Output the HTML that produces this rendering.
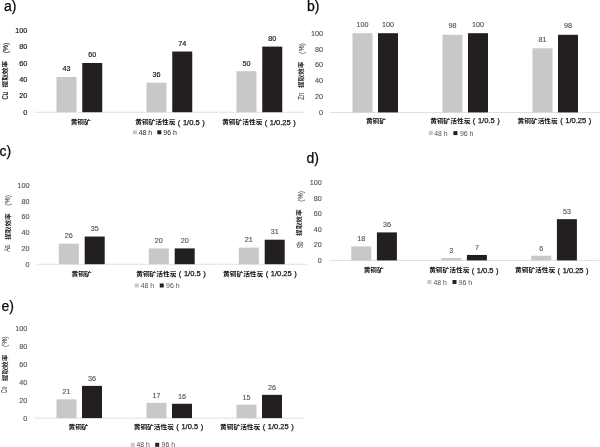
<!DOCTYPE html>
<html lang="zh"><head><meta charset="utf-8"><title>提取效率</title>
<style>
html,body{margin:0;padding:0;background:#fff;}
body{width:600px;height:447px;overflow:hidden;}
svg{display:block;font-family:"Liberation Sans", "Noto Sans CJK SC", sans-serif;}
.ttl{font-size:14px;fill:#0a0a0a;stroke:#0a0a0a;stroke-width:0.25px;}
.cj{font-size:6px;font-weight:700;fill:#111;}
.cl{font-size:7.5px;font-weight:400;fill:#111;stroke:#111;stroke-width:0.25px;word-spacing:0.5px;}
</style></head><body>
<svg width="600" height="447" viewBox="0 0 600 447">
<rect width="600" height="447" fill="#ffffff"/>
<g id="panel-a">
<text class="ttl" x="4" y="10.5">a)</text>
<rect x="34.25" y="111.8" width="270" height="0.8" fill="#d9d9d9"/>
<text x="27.2" y="114.78" font-size="7.2" fill="#1c1c1c" stroke="#1c1c1c" stroke-width="0.2" text-anchor="end">0</text>
<text x="27.2" y="98.38" font-size="7.2" fill="#1c1c1c" stroke="#1c1c1c" stroke-width="0.2" text-anchor="end">20</text>
<text x="27.2" y="81.98" font-size="7.2" fill="#1c1c1c" stroke="#1c1c1c" stroke-width="0.2" text-anchor="end">40</text>
<text x="27.2" y="65.58" font-size="7.2" fill="#1c1c1c" stroke="#1c1c1c" stroke-width="0.2" text-anchor="end">60</text>
<text x="27.2" y="49.18" font-size="7.2" fill="#1c1c1c" stroke="#1c1c1c" stroke-width="0.2" text-anchor="end">80</text>
<text x="27.2" y="32.78" font-size="7.2" fill="#1c1c1c" stroke="#1c1c1c" stroke-width="0.2" text-anchor="end">100</text>
<g transform="translate(7.7 99.4) rotate(-90)"><text transform="scale(0.69 1)" x="0" y="0.2" font-size="8.4" fill="#1c1c1c" stroke="#1c1c1c" stroke-width="0.2">Cu</text><text x="12" y="-0.3" font-size="6" font-weight="700" fill="#111" textLength="26.5" lengthAdjust="spacingAndGlyphs">提取效率</text><text transform="translate(46.1 0) scale(0.85 1)" x="0" y="0.3" font-size="8.1" fill="#1c1c1c" stroke="#1c1c1c" stroke-width="0.2">(%)</text></g>
<rect x="56.5" y="76.94" width="20" height="35.26" fill="#c7c8ca"/>
<text x="66.5" y="71.42" font-size="7.2" fill="#1c1c1c" stroke="#1c1c1c" stroke-width="0.2" text-anchor="middle">43</text>
<rect x="82.25" y="63" width="20" height="49.2" fill="#231f20"/>
<text x="92.25" y="57.48" font-size="7.2" fill="#1c1c1c" stroke="#1c1c1c" stroke-width="0.2" text-anchor="middle">60</text>
<text class="cj" x="70.67" y="124.3" textLength="20" lengthAdjust="spacingAndGlyphs">黄铜矿</text>
<rect x="146.5" y="82.68" width="20" height="29.52" fill="#c7c8ca"/>
<text x="156.5" y="77.16" font-size="7.2" fill="#1c1c1c" stroke="#1c1c1c" stroke-width="0.2" text-anchor="middle">36</text>
<rect x="172.25" y="51.52" width="20" height="60.68" fill="#231f20"/>
<text x="182.25" y="46" font-size="7.2" fill="#1c1c1c" stroke="#1c1c1c" stroke-width="0.2" text-anchor="middle">74</text>
<text class="cj" x="135.25" y="124.3" textLength="40.2" lengthAdjust="spacingAndGlyphs">黄铜矿活性炭</text>
<text class="cl" x="177.85" y="124.5">( 1/0.5 )</text>
<rect x="236.5" y="71.2" width="20" height="41" fill="#c7c8ca"/>
<text x="246.5" y="65.68" font-size="7.2" fill="#1c1c1c" stroke="#1c1c1c" stroke-width="0.2" text-anchor="middle">50</text>
<rect x="262.25" y="46.6" width="20" height="65.6" fill="#231f20"/>
<text x="272.25" y="41.08" font-size="7.2" fill="#1c1c1c" stroke="#1c1c1c" stroke-width="0.2" text-anchor="middle">80</text>
<text class="cj" x="222.17" y="124.3" textLength="40.2" lengthAdjust="spacingAndGlyphs">黄铜矿活性炭</text>
<text class="cl" x="264.77" y="124.5">( 1/0.25 )</text>
<rect x="132.9" y="130.3" width="4" height="4" fill="#c7c8ca"/>
<text x="138.7" y="134.88" font-size="7.2" fill="#1c1c1c" textLength="13.3" lengthAdjust="spacingAndGlyphs">48 h</text>
<rect x="157.3" y="130.3" width="4" height="4" fill="#231f20"/>
<text x="163.3" y="134.88" font-size="7.2" fill="#1c1c1c" textLength="13.6" lengthAdjust="spacingAndGlyphs">96 h</text>
</g>
<g id="panel-b">
<text class="ttl" x="307" y="10.5">b)</text>
<rect x="330.4" y="112" width="270" height="0.8" fill="#d9d9d9"/>
<text x="323" y="114.98" font-size="7.2" fill="#505050" stroke="#505050" stroke-width="0.12" text-anchor="end">0</text>
<text x="323" y="99.14" font-size="7.2" fill="#505050" stroke="#505050" stroke-width="0.12" text-anchor="end">20</text>
<text x="323" y="83.3" font-size="7.2" fill="#505050" stroke="#505050" stroke-width="0.12" text-anchor="end">40</text>
<text x="323" y="67.46" font-size="7.2" fill="#505050" stroke="#505050" stroke-width="0.12" text-anchor="end">60</text>
<text x="323" y="51.62" font-size="7.2" fill="#505050" stroke="#505050" stroke-width="0.12" text-anchor="end">80</text>
<text x="323" y="35.78" font-size="7.2" fill="#505050" stroke="#505050" stroke-width="0.12" text-anchor="end">100</text>
<g transform="translate(303.6 100) rotate(-90)"><text transform="scale(0.75 1)" x="0" y="0.2" font-size="8.4" fill="#505050" stroke="#505050" stroke-width="0.12">Zn</text><text x="12" y="-0.9" font-size="6" font-weight="700" fill="#222" textLength="26.5" lengthAdjust="spacingAndGlyphs">提取效率</text><text transform="translate(46.1 0) scale(0.91 1)" x="0" y="0.3" font-size="7.6" fill="#505050" stroke="#505050" stroke-width="0.12">(%)</text></g>
<rect x="352.5" y="33.2" width="20" height="79.2" fill="#c7c8ca"/>
<text x="362.5" y="26.88" font-size="7.2" fill="#505050" stroke="#505050" stroke-width="0.12" text-anchor="middle">100</text>
<rect x="378" y="33.2" width="20" height="79.2" fill="#231f20"/>
<text x="388" y="26.88" font-size="7.2" fill="#505050" stroke="#505050" stroke-width="0.12" text-anchor="middle">100</text>
<text class="cj" x="365.95" y="123.1" textLength="20" lengthAdjust="spacingAndGlyphs">黄铜矿</text>
<rect x="442.5" y="34.78" width="20" height="77.62" fill="#c7c8ca"/>
<text x="452.5" y="28.46" font-size="7.2" fill="#505050" stroke="#505050" stroke-width="0.12" text-anchor="middle">98</text>
<rect x="468" y="33.2" width="20" height="79.2" fill="#231f20"/>
<text x="478" y="26.88" font-size="7.2" fill="#505050" stroke="#505050" stroke-width="0.12" text-anchor="middle">100</text>
<text class="cj" x="430.22" y="123.1" textLength="40.2" lengthAdjust="spacingAndGlyphs">黄铜矿活性炭</text>
<text class="cl" x="472.82" y="123.3">( 1/0.5 )</text>
<rect x="532.5" y="48.25" width="20" height="64.15" fill="#c7c8ca"/>
<text x="542.5" y="41.93" font-size="7.2" fill="#505050" stroke="#505050" stroke-width="0.12" text-anchor="middle">81</text>
<rect x="558" y="34.78" width="20" height="77.62" fill="#231f20"/>
<text x="568" y="28.46" font-size="7.2" fill="#505050" stroke="#505050" stroke-width="0.12" text-anchor="middle">98</text>
<text class="cj" x="517.55" y="123.1" textLength="40.2" lengthAdjust="spacingAndGlyphs">黄铜矿活性炭</text>
<text class="cl" x="560.15" y="123.3">( 1/0.25 )</text>
<rect x="428.75" y="131.1" width="4" height="4" fill="#c7c8ca"/>
<text x="434.3" y="135.68" font-size="7.2" fill="#505050" textLength="13.3" lengthAdjust="spacingAndGlyphs">48 h</text>
<rect x="453.4" y="131.1" width="4" height="4" fill="#231f20"/>
<text x="459.9" y="135.68" font-size="7.2" fill="#505050" textLength="13.6" lengthAdjust="spacingAndGlyphs">96 h</text>
</g>
<g id="panel-c">
<text class="ttl" x="-0.5" y="155.5">c)</text>
<rect x="36.75" y="263.8" width="270" height="0.8" fill="#d9d9d9"/>
<text x="29.6" y="266.78" font-size="7.2" fill="#505050" stroke="#505050" stroke-width="0.12" text-anchor="end">0</text>
<text x="29.6" y="250.98" font-size="7.2" fill="#505050" stroke="#505050" stroke-width="0.12" text-anchor="end">20</text>
<text x="29.6" y="235.18" font-size="7.2" fill="#505050" stroke="#505050" stroke-width="0.12" text-anchor="end">40</text>
<text x="29.6" y="219.38" font-size="7.2" fill="#505050" stroke="#505050" stroke-width="0.12" text-anchor="end">60</text>
<text x="29.6" y="203.58" font-size="7.2" fill="#505050" stroke="#505050" stroke-width="0.12" text-anchor="end">80</text>
<text x="29.6" y="187.78" font-size="7.2" fill="#505050" stroke="#505050" stroke-width="0.12" text-anchor="end">100</text>
<g transform="translate(9.8 251.8) rotate(-90)"><text transform="scale(0.7 1)" x="0" y="0.2" font-size="8.4" fill="#505050" stroke="#505050" stroke-width="0.12">As</text><text x="12" y="0.35" font-size="6" font-weight="700" fill="#222" textLength="26.5" lengthAdjust="spacingAndGlyphs">提取效率</text><text transform="translate(46.1 0) scale(0.91 1)" x="0" y="0.3" font-size="7.6" fill="#505050" stroke="#505050" stroke-width="0.12">(%)</text></g>
<rect x="58.8" y="243.66" width="20" height="20.54" fill="#c7c8ca"/>
<text x="68.8" y="238.24" font-size="7.2" fill="#505050" stroke="#505050" stroke-width="0.12" text-anchor="middle">26</text>
<rect x="84.7" y="236.55" width="20" height="27.65" fill="#231f20"/>
<text x="94.7" y="231.13" font-size="7.2" fill="#505050" stroke="#505050" stroke-width="0.12" text-anchor="middle">35</text>
<text class="cj" x="71.55" y="276" textLength="20" lengthAdjust="spacingAndGlyphs">黄铜矿</text>
<rect x="148.8" y="248.4" width="20" height="15.8" fill="#c7c8ca"/>
<text x="158.8" y="242.98" font-size="7.2" fill="#505050" stroke="#505050" stroke-width="0.12" text-anchor="middle">20</text>
<rect x="174.7" y="248.4" width="20" height="15.8" fill="#231f20"/>
<text x="184.7" y="242.98" font-size="7.2" fill="#505050" stroke="#505050" stroke-width="0.12" text-anchor="middle">20</text>
<text class="cj" x="136.22" y="276" textLength="40.2" lengthAdjust="spacingAndGlyphs">黄铜矿活性炭</text>
<text class="cl" x="178.83" y="276.2">( 1/0.5 )</text>
<rect x="238.8" y="247.61" width="20" height="16.59" fill="#c7c8ca"/>
<text x="248.8" y="242.19" font-size="7.2" fill="#505050" stroke="#505050" stroke-width="0.12" text-anchor="middle">21</text>
<rect x="264.7" y="239.71" width="20" height="24.49" fill="#231f20"/>
<text x="274.7" y="234.29" font-size="7.2" fill="#505050" stroke="#505050" stroke-width="0.12" text-anchor="middle">31</text>
<text class="cj" x="223.05" y="276" textLength="40.2" lengthAdjust="spacingAndGlyphs">黄铜矿活性炭</text>
<text class="cl" x="265.65" y="276.2">( 1/0.25 )</text>
<rect x="134.7" y="283.5" width="4" height="4" fill="#c7c8ca"/>
<text x="140.7" y="288.08" font-size="7.2" fill="#505050" textLength="13.3" lengthAdjust="spacingAndGlyphs">48 h</text>
<rect x="159.75" y="283.5" width="4" height="4" fill="#231f20"/>
<text x="166" y="288.08" font-size="7.2" fill="#505050" textLength="13.6" lengthAdjust="spacingAndGlyphs">96 h</text>
</g>
<g id="panel-d">
<text class="ttl" x="306.5" y="163">d)</text>
<rect x="329.3" y="260" width="270" height="0.8" fill="#d9d9d9"/>
<text x="321.8" y="262.98" font-size="7.2" fill="#505050" stroke="#505050" stroke-width="0.12" text-anchor="end">0</text>
<text x="321.8" y="247.42" font-size="7.2" fill="#505050" stroke="#505050" stroke-width="0.12" text-anchor="end">20</text>
<text x="321.8" y="231.86" font-size="7.2" fill="#505050" stroke="#505050" stroke-width="0.12" text-anchor="end">40</text>
<text x="321.8" y="216.3" font-size="7.2" fill="#505050" stroke="#505050" stroke-width="0.12" text-anchor="end">60</text>
<text x="321.8" y="200.74" font-size="7.2" fill="#505050" stroke="#505050" stroke-width="0.12" text-anchor="end">80</text>
<text x="321.8" y="185.18" font-size="7.2" fill="#505050" stroke="#505050" stroke-width="0.12" text-anchor="end">100</text>
<g transform="translate(302.5 247.9) rotate(-90)"><text transform="scale(0.62 1)" x="0" y="0.2" font-size="8.4" fill="#505050" stroke="#505050" stroke-width="0.12">Sb</text><text x="12" y="-1.15" font-size="6" font-weight="700" fill="#222" textLength="26.5" lengthAdjust="spacingAndGlyphs">提取效率</text><text transform="translate(46.1 0) scale(0.91 1)" x="0" y="0.3" font-size="7.6" fill="#505050" stroke="#505050" stroke-width="0.12">(%)</text></g>
<rect x="351.3" y="246.4" width="20" height="14" fill="#c7c8ca"/>
<text x="361.3" y="241.17" font-size="7.2" fill="#505050" stroke="#505050" stroke-width="0.12" text-anchor="middle">18</text>
<rect x="376.9" y="232.39" width="20" height="28.01" fill="#231f20"/>
<text x="386.9" y="227.17" font-size="7.2" fill="#505050" stroke="#505050" stroke-width="0.12" text-anchor="middle">36</text>
<text class="cj" x="363.7" y="272.4" textLength="20" lengthAdjust="spacingAndGlyphs">黄铜矿</text>
<rect x="441.3" y="258.07" width="20" height="2.33" fill="#c7c8ca"/>
<text x="451.3" y="252.84" font-size="7.2" fill="#505050" stroke="#505050" stroke-width="0.12" text-anchor="middle">3</text>
<rect x="466.9" y="254.95" width="20" height="5.45" fill="#231f20"/>
<text x="476.9" y="249.73" font-size="7.2" fill="#505050" stroke="#505050" stroke-width="0.12" text-anchor="middle">7</text>
<text class="cj" x="429.18" y="272.4" textLength="40.2" lengthAdjust="spacingAndGlyphs">黄铜矿活性炭</text>
<text class="cl" x="471.77" y="272.6">( 1/0.5 )</text>
<rect x="531.3" y="255.73" width="20" height="4.67" fill="#c7c8ca"/>
<text x="541.3" y="250.51" font-size="7.2" fill="#505050" stroke="#505050" stroke-width="0.12" text-anchor="middle">6</text>
<rect x="556.9" y="219.17" width="20" height="41.23" fill="#231f20"/>
<text x="566.9" y="213.94" font-size="7.2" fill="#505050" stroke="#505050" stroke-width="0.12" text-anchor="middle">53</text>
<text class="cj" x="515" y="272.4" textLength="40.2" lengthAdjust="spacingAndGlyphs">黄铜矿活性炭</text>
<text class="cl" x="557.6" y="272.6">( 1/0.25 )</text>
<rect x="427.4" y="280" width="4" height="4" fill="#c7c8ca"/>
<text x="433.4" y="284.58" font-size="7.2" fill="#505050" textLength="13.3" lengthAdjust="spacingAndGlyphs">48 h</text>
<rect x="452.5" y="280" width="4" height="4" fill="#231f20"/>
<text x="458.5" y="284.58" font-size="7.2" fill="#505050" textLength="13.6" lengthAdjust="spacingAndGlyphs">96 h</text>
</g>
<g id="panel-e">
<text class="ttl" x="1.5" y="310.5">e)</text>
<rect x="34" y="417.7" width="270" height="0.8" fill="#d9d9d9"/>
<text x="27.2" y="420.68" font-size="7.2" fill="#505050" stroke="#505050" stroke-width="0.12" text-anchor="end">0</text>
<text x="27.2" y="402.78" font-size="7.2" fill="#505050" stroke="#505050" stroke-width="0.12" text-anchor="end">20</text>
<text x="27.2" y="384.88" font-size="7.2" fill="#505050" stroke="#505050" stroke-width="0.12" text-anchor="end">40</text>
<text x="27.2" y="366.98" font-size="7.2" fill="#505050" stroke="#505050" stroke-width="0.12" text-anchor="end">60</text>
<text x="27.2" y="349.08" font-size="7.2" fill="#505050" stroke="#505050" stroke-width="0.12" text-anchor="end">80</text>
<text x="27.2" y="331.18" font-size="7.2" fill="#505050" stroke="#505050" stroke-width="0.12" text-anchor="end">100</text>
<g transform="translate(6.9 393.2) rotate(-90)"><text transform="scale(0.61 1)" x="0" y="0.2" font-size="8.4" fill="#505050" stroke="#505050" stroke-width="0.12">Co</text><text x="12" y="0.45" font-size="6" font-weight="700" fill="#222" textLength="26.5" lengthAdjust="spacingAndGlyphs">提取效率</text><text transform="translate(46.1 0) scale(0.91 1)" x="0" y="0.3" font-size="7.6" fill="#505050" stroke="#505050" stroke-width="0.12">(%)</text></g>
<rect x="56.5" y="399.31" width="20" height="18.8" fill="#c7c8ca"/>
<text x="66.5" y="394.18" font-size="7.2" fill="#505050" stroke="#505050" stroke-width="0.12" text-anchor="middle">21</text>
<rect x="82" y="385.88" width="20" height="32.22" fill="#231f20"/>
<text x="92" y="380.76" font-size="7.2" fill="#505050" stroke="#505050" stroke-width="0.12" text-anchor="middle">36</text>
<text class="cj" x="68.55" y="429.1" textLength="20" lengthAdjust="spacingAndGlyphs">黄铜矿</text>
<rect x="146.5" y="402.89" width="20" height="15.21" fill="#c7c8ca"/>
<text x="156.5" y="397.76" font-size="7.2" fill="#505050" stroke="#505050" stroke-width="0.12" text-anchor="middle">17</text>
<rect x="172" y="403.78" width="20" height="14.32" fill="#231f20"/>
<text x="182" y="398.66" font-size="7.2" fill="#505050" stroke="#505050" stroke-width="0.12" text-anchor="middle">16</text>
<text class="cj" x="133.72" y="429.1" textLength="40.2" lengthAdjust="spacingAndGlyphs">黄铜矿活性炭</text>
<text class="cl" x="176.33" y="429.3">( 1/0.5 )</text>
<rect x="236.5" y="404.68" width="20" height="13.43" fill="#c7c8ca"/>
<text x="246.5" y="399.55" font-size="7.2" fill="#505050" stroke="#505050" stroke-width="0.12" text-anchor="middle">15</text>
<rect x="262" y="394.83" width="20" height="23.27" fill="#231f20"/>
<text x="272" y="389.71" font-size="7.2" fill="#505050" stroke="#505050" stroke-width="0.12" text-anchor="middle">26</text>
<text class="cj" x="220.05" y="429.1" textLength="40.2" lengthAdjust="spacingAndGlyphs">黄铜矿活性炭</text>
<text class="cl" x="262.65" y="429.3">( 1/0.25 )</text>
<rect x="130.8" y="442.8" width="4" height="4" fill="#c7c8ca"/>
<text x="136.5" y="447.38" font-size="7.2" fill="#505050" textLength="13.3" lengthAdjust="spacingAndGlyphs">48 h</text>
<rect x="155.2" y="442.8" width="4" height="4" fill="#231f20"/>
<text x="161.5" y="447.38" font-size="7.2" fill="#505050" textLength="13.6" lengthAdjust="spacingAndGlyphs">96 h</text>
</g>
</svg>
</body></html>
